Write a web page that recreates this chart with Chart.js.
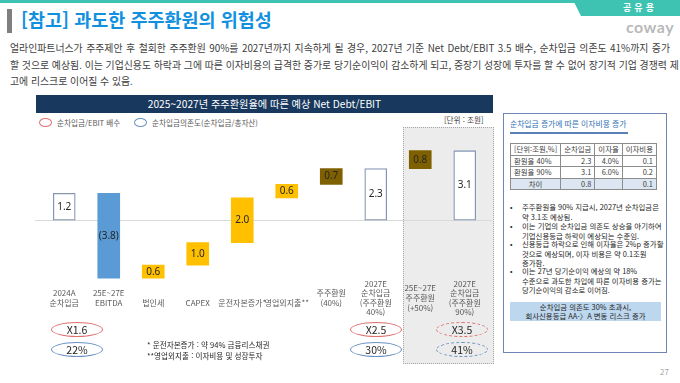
<!DOCTYPE html>
<html lang="ko">
<head>
<meta charset="utf-8">
<title>과도한 주주환원의 위험성</title>
<script src="https://cdn.jsdelivr.net/npm/chart.js@4/dist/chart.umd.min.js"></script>
<style>
  html,body{margin:0;padding:0;background:#fff}
  body{width:680px;height:383px;position:relative;overflow:hidden;font-family:"Noto Sans CJK KR","Noto Sans",sans-serif;color:#262626}
  .abs{position:absolute;white-space:nowrap}
  #topline{left:0;top:0;width:680px;height:3px;background:#3ec3b3}
  #tab{left:573px;top:0;width:107px;height:16px;background:#3ec3b3;clip-path:polygon(0 0,100% 0,100% 100%,8px 100%)}
  #tabtxt{left:600px;top:1px;width:80px;text-align:center;color:#fff;font-size:9px;font-weight:bold;letter-spacing:3px}
  #logo{left:626px;top:17px;font-family:"Lato","DejaVu Sans",sans-serif;font-weight:bold;font-size:16px;color:#b9b9b9;letter-spacing:0.5px}
  #mark{left:7px;top:9px;width:5px;height:24px;background:#7f7f7f}
  #title{left:21px;top:6px;font-size:18.5px;font-weight:bold;color:#1290e0}
  .body{left:10px;font-size:9.9px;color:#404040;width:660px}
  .just{text-align:justify;text-align-last:justify}
  #chartTitle{left:36px;top:95px;width:457px;height:18px;background:#18395d;color:#fff;font-size:10.2px;text-align:center;line-height:18px}
  .lg{font-size:7.6px;color:#595959;top:117px}
  .lgdot{top:118px;width:11px;height:7px;border-radius:50%;border:1.2px solid}
  #unit{left:444px;top:114px;font-size:7.6px;color:#404040}
  #shade{left:403px;top:127px;width:89px;height:235px;background:#ececec;border:1px dotted #a6a6a6}
  #chartBox{left:35px;top:120px;width:460px;height:207px}
  .ell{width:50px;height:13px;border-radius:50%;border:1.4px solid;text-align:center;font-size:10.5px;line-height:13px;color:#262626}
  .red{border-color:#e07070}
  .blue{border-color:#6a90c4}
  .dash{border-style:dashed}
  .note{left:147px;font-size:7.6px;color:#262626}
  #panel{left:503px;top:113px;width:162px;height:238px;border:1.5px solid #6d84b4}
  #ptitle{left:510px;top:118px;font-size:7.8px;color:#2f6fb4}
  #pline{left:510px;top:132px;width:118px;height:1.5px;background:#5b80b8}
  table{position:absolute;left:510px;top:143px;border-collapse:collapse;font-size:7.4px;color:#404040}
  td{border:1px solid #8c8c8c;height:10.5px;padding:0 3px;line-height:10px}
  td.n{text-align:right}
  td.c{text-align:center}
  tr.diff td{background:#dce6f2}
  .bul{left:510px;font-size:7.4px;line-height:9.7px;color:#262626}
  .bul span{position:absolute;left:0}
  .bul div{margin-left:12px}
  #callout{left:510px;top:302px;width:151px;height:19px;background:#bdd7ee;font-size:7.4px;line-height:9.2px;text-align:center;color:#262626}
  #page{left:660px;top:366px;font-size:8px;color:#a6a6a6}
</style>
</head>
<body>
<div class="abs" id="topline"></div>
<div class="abs" id="tab"></div>
<div class="abs" id="tabtxt">공유용</div>
<div class="abs" id="logo">coway</div>
<div class="abs" id="mark"></div>
<div class="abs" id="title">[참고] 과도한 주주환원의 위험성</div>
<div class="abs body just" style="top:41px">얼라인파트너스가 주주제안 후 철회한 주주환원 90%를 2027년까지 지속하게 될 경우, 2027년 기준 Net Debt/EBIT 3.5 배수, 순차입금 의존도 41%까지 증가</div>
<div class="abs body just" style="top:58px">할 것으로 예상됨. 이는 기업신용도 하락과 그에 따른 이자비용의 급격한 증가로 당기순이익이 감소하게 되고, 중장기 성장에 투자를 할 수 없어 장기적 기업 경쟁력 제</div>
<div class="abs body" style="top:74px">고에 리스크로 이어질 수 있음.</div>

<div class="abs" id="chartTitle">2025~2027년 주주환원율에 따른 예상 Net Debt/EBIT</div>
<div class="abs lgdot" style="left:39px;border-color:#e07070"></div>
<div class="abs lg" style="left:57px">순차입금/EBIT 배수</div>
<div class="abs lgdot" style="left:134px;border-color:#6a90c4"></div>
<div class="abs lg" style="left:152px">순차입금의존도(순차입금/총자산)</div>
<div class="abs" id="unit">[단위 : 조원]</div>
<div class="abs" id="shade"></div>

<div class="abs" id="chartBox"><canvas id="c"></canvas></div>

<div id="ellipses"></div>
<div class="abs note" style="top:339px">* 운전자본증가 : 약 94% 금융리스채권</div>
<div class="abs note" style="top:350px">**영업외지출 : 이자비용 및 성장투자</div>

<div class="abs" id="panel"></div>
<div class="abs" id="ptitle">순차입금 증가에 따른 이자비용 증가</div>
<div class="abs" id="pline"></div>
<table id="tbl"></table>
<div class="abs bul" style="top:202px"><span>•</span><div>주주환원율 90% 지급시, 2027년 순차입금은<br>약 3.1조 예상됨.</div></div>
<div class="abs bul" style="top:221px"><span>•</span><div>이는 기업의 순차입금 의존도 상승을 야기하여<br>기업신용등급 하락이 예상되는 수준임.</div></div>
<div class="abs bul" style="top:239px"><span>•</span><div>신용등급 하락으로 인해 이자율은 2%p 증가할<br>것으로 예상되며, 이자 비용은 약 0.1조원<br>증가함.</div></div>
<div class="abs bul" style="top:266px"><span>•</span><div>이는 27년 당기순이익 예상의 약 18%<br>수준으로 과도한 차입에 따른 이자비용 증가는<br>당기순이익의 감소로 이어짐.</div></div>
<div class="abs" id="callout">순차입금 의존도 30% 초과시,<br>회사신용등급 AA-〉A 변동 리스크 증가</div>
<div class="abs" id="page">27</div>

<script>
// waterfall steps (조원); single-line labels get an empty first line so they sit low like the slide
const categories = [
  ['2024A', '순차입금'], ['25E~27E', 'EBITDA'], ['', '법인세'], ['', 'CAPEX'], ['', '운전자본증가*'], ['', '영업외지출**'],
  ['주주환원', '(40%)'], ['2027E', '순차입금', '(주주환원', '40%)'], ['25E~27E', '주주환원', '(+50%)'], ['2027E', '순차입금', '(주주환원', '90%)']
];
const amounts = [1.2, -3.8, 0.6, 1.0, 2.0, 0.6, 0.7, 2.3, 0.8, 3.1];
const kinds = ['total', 'ebitda', 'out', 'out', 'out', 'out', 'payout', 'total', 'payout', 'total'];

// ratio ellipses under the totals
const ebitMultiples = ['X1.6', 'X2.5', 'X3.5'];
const debtRatios = ['22%', '30%', '41%'];

// side table
const tableHead = ['[단위:조원,%]', '순차입금', '이자율', '이자비용'];
const tableRows = ['환원율 40%', '환원율 90%', '차이'];
const netDebt = [2.3, 3.1, 0.8];
const rates = ['4.0%', '6.0%', ''];
const interest = [0.1, 0.2, 0.1];

const kindColor = { total: '#ffffff', ebitda: '#5b9bd5', out: '#ffc000', payout: '#7f6000' };

// floating ranges from running total
let run = 0;
const ranges = amounts.map((v, i) => {
  if (kinds[i] === 'total') { run = v; return [0, v]; }
  const s = run; run = run + v; return [s, run];
});

const tb = document.getElementById('tbl');
let h = '<tr>' + tableHead.map(t => '<td class="c">' + t + '</td>').join('') + '</tr>';
tableRows.forEach((r, i) => {
  h += '<tr' + (i === 2 ? ' class="diff"' : '') + '><td' + (i === 2 ? ' class="c"' : '') + '>' + r + '</td>' +
    '<td class="n">' + netDebt[i].toFixed(1) + '</td><td class="n">' + rates[i] + '</td><td class="n">' + interest[i].toFixed(1) + '</td></tr>';
});
tb.innerHTML = h;

const ell = document.getElementById('ellipses');
const ellX = [77, 376, 462];
ebitMultiples.forEach((t, i) => {
  const d = i === 2 ? ' dash' : '';
  ell.innerHTML += '<div class="abs ell red' + d + '" style="left:' + (ellX[i] - 26) + 'px;top:322px">' + t + '</div>';
  ell.innerHTML += '<div class="abs ell blue' + d + '" style="left:' + (ellX[i] - 26) + 'px;top:342px">' + debtRatios[i] + '</div>';
});

const zeroLine = {
  id: 'zeroLine',
  beforeDatasetsDraw(chart) {
    const { ctx, chartArea, scales } = chart;
    const y = Math.round(scales.y.getPixelForValue(0)) + 0.5;
    ctx.save();
    ctx.strokeStyle = '#d9d9d9';
    ctx.lineWidth = 1;
    ctx.beginPath();
    ctx.moveTo(chartArea.left - 7, y);
    ctx.lineTo(chartArea.right + 5, y);
    ctx.stroke();
    ctx.restore();
  }
};

const barLabels = {
  id: 'barLabels',
  afterDatasetsDraw(chart) {
    const { ctx } = chart;
    const meta = chart.getDatasetMeta(0);
    ctx.save();
    ctx.font = '10px "Noto Sans", sans-serif';
    ctx.fillStyle = '#262626';
    ctx.textAlign = 'center';
    ctx.textBaseline = 'middle';
    meta.data.forEach((bar, i) => {
      const v = amounts[i];
      const txt = v < 0 ? '(' + Math.abs(v).toFixed(1) + ')' : v.toFixed(1);
      ctx.fillText(txt, bar.x, (bar.y + bar.base) / 2);
    });
    ctx.restore();
  }
};

new Chart(document.getElementById('c'), {
  type: 'bar',
  data: {
    labels: categories,
    datasets: [{
      data: ranges,
      backgroundColor: kinds.map(k => kindColor[k]),
      borderColor: kinds.map(k => k === 'total' ? '#8697b5' : 'rgba(0,0,0,0)'),
      borderWidth: kinds.map(k => k === 'total' ? 1.3 : 0),
      borderSkipped: false,
      barThickness: 22
    }]
  },
  options: {
    responsive: true,
    maintainAspectRatio: false,
    animation: false,
    layout: { padding: { left: 7, right: 8, top: 6, bottom: 0 } },
    plugins: { legend: { display: false }, tooltip: { enabled: false } },
    scales: {
      x: {
        grid: { display: false, drawTicks: false },
        border: { display: false },
        ticks: {
          autoSkip: false, maxRotation: 0, padding: 5, crossAlign: 'center',
          color: '#595959', font: { family: '"Noto Sans CJK KR", sans-serif', size: 8, lineHeight: 1.2 }
        }
      },
      y: { display: false, min: -2.6, max: 4.2 }
    }
  },
  plugins: [zeroLine, barLabels]
});
</script>
</body>
</html>
